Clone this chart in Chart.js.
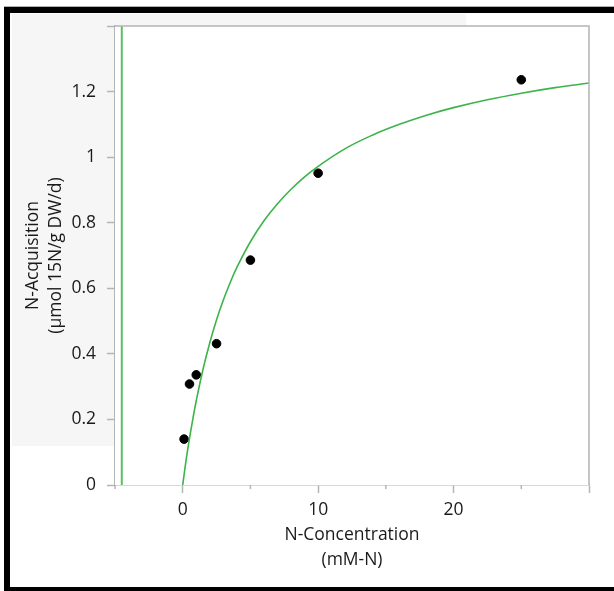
<!DOCTYPE html>
<html>
<head>
<meta charset="utf-8">
<script src="https://cdn.jsdelivr.net/npm/chart.js@4.4.1/dist/chart.umd.min.js"></script>
<style>
  html, body { margin: 0; padding: 0; background: #fff; }
  body { width: 614px; height: 591px; position: relative; overflow: hidden; }
  #frame {
    position: absolute; left: 4px; top: 7px; width: 640px; height: 584px;
    box-sizing: border-box; border-left: 6px solid #000; border-top: 6px solid #000; border-bottom: 4px solid #000;
    box-shadow: 0 -1px 0 #b0b0b0;
  }
  #shade { position: absolute; left: 12px; top: 14px; width: 454px; height: 432px; background: #f6f6f6; }
  #wrap { position: absolute; left: 0; top: 0; width: 614px; height: 591px; }
</style>
</head>
<body>
<div id="frame"></div>
<div id="shade"></div>
<div id="wrap"><canvas id="chScatter" width="614" height="591"></canvas></div>
<script>
// measured points
var concX = [0.1, 0.5, 1, 2.5, 5, 10, 25];
var acqY = [0.14, 0.308, 0.336, 0.431, 0.686, 0.951, 1.236];

// fitted curve
var fitX = [0, 0.25, 0.5, 0.75, 1, 1.5, 2, 2.5, 3, 3.5, 4, 5, 6, 7, 8, 9, 10, 12, 14, 16, 18, 20, 22.5, 25, 27.5, 30];
var fitY = [0, 0.076, 0.142, 0.202, 0.257, 0.353, 0.434, 0.504, 0.564, 0.617, 0.664, 0.742, 0.806, 0.858, 0.902, 0.94, 0.972, 1.026, 1.067, 1.1, 1.128, 1.151, 1.175, 1.195, 1.212, 1.226];

// vertical branch of the fit
var asymX = [-4.5, -4.5];
var asymY = [0, 1.4];

var xLabels = [0, 10, 20];
var yLabels = [0, 0.2, 0.4, 0.6, 0.8, 1, 1.2];

var axisGray = '#b4b4b4';
var green = '#3cb44a';

function pairs(xs, ys) {
  return xs.map(function (x, i) { return { x: x, y: ys[i] }; });
}

var frameBits = {
  id: 'frameBits',
  beforeDatasetsDraw: function (chart) {
    var a = chart.chartArea, ctx = chart.ctx;
    ctx.save();
    ctx.fillStyle = '#fff';
    ctx.fillRect(a.left, a.top, a.right - a.left, a.bottom - a.top);
    ctx.restore();
  },
  afterDraw: function (chart) {
    var a = chart.chartArea, ctx = chart.ctx, xs = chart.scales.x;
    ctx.save();
    ctx.strokeStyle = axisGray;
    ctx.lineWidth = 1.5;
    ctx.beginPath();
    ctx.moveTo(a.left, a.top);
    ctx.lineTo(a.right, a.top);
    ctx.lineTo(a.right, a.bottom);
    ctx.stroke();
    // minor ticks on x
    xs.ticks.forEach(function (t) {
      if (t.value % 10 !== 0) {
        var px = xs.getPixelForValue(t.value);
        ctx.beginPath();
        ctx.moveTo(px, a.bottom);
        ctx.lineTo(px, a.bottom + 4);
        ctx.stroke();
      }
    });
    ctx.restore();
  }
};

Chart.defaults.font.family = "'Open Sans', sans-serif";
Chart.defaults.font.size = 17.5;
Chart.defaults.color = '#1a1a1a';

new Chart(document.getElementById('chScatter'), {
  type: 'scatter',
  data: {
    datasets: [{
      data: pairs(asymX, asymY),
      showLine: true,
      borderColor: '#5cbf64',
      borderWidth: 2,
      pointRadius: 0
    }, {
      data: pairs(fitX, fitY),
      showLine: true,
      borderColor: green,
      borderWidth: 1.6,
      pointRadius: 0,
      tension: 0.4
    }, {
      data: pairs(concX, acqY),
      backgroundColor: '#000',
      borderColor: '#000',
      pointRadius: 4.3
    }]
  },
  options: {
    responsive: false,
    animation: false,
    layout: { padding: { top: 26, right: 25, left: 0, bottom: 0 } },
    plugins: { legend: { display: false }, tooltip: { enabled: false } },
    scales: {
      x: {
        type: 'linear', min: -5, max: 30,
        afterFit: function (s) { s.height = 106; },
        border: { display: true, color: axisGray, width: 1.5 },
        grid: {
          drawOnChartArea: false, tickLength: 8, tickWidth: 1.5,
          tickColor: function (c) { return c.tick && c.tick.value % 10 === 0 ? axisGray : 'rgba(0,0,0,0)'; }
        },
        ticks: {
          stepSize: 5, padding: 7, maxRotation: 0, autoSkip: false,
          callback: function (v) { return xLabels.indexOf(v) >= 0 ? String(v) : ''; }
        },
        title: {
          display: true, text: ['N-Concentration', '(mM-N)'], color: '#1a1a1a',
          font: { size: 17.5, lineHeight: 1.43 }, padding: { top: 0, bottom: 18.5 }
        }
      },
      y: {
        type: 'linear', min: 0, max: 1.4,
        afterFit: function (s) { s.width = 115; },
        border: { display: true, color: axisGray, width: 1.5 },
        grid: { drawOnChartArea: false, tickLength: 8, tickWidth: 1.5, color: axisGray },
        ticks: {
          stepSize: 0.2, padding: 11, autoSkip: false,
          callback: function (v) {
            var r = Math.round(v * 10) / 10;
            return yLabels.indexOf(r) >= 0 ? String(r) : '';
          }
        },
        title: {
          display: true, text: ['N-Acquisition', '(µmol 15N/g DW/d)'], color: '#1a1a1a',
          font: { size: 17.5, lineHeight: 1.33 }, padding: { top: 21.5, bottom: 0 }
        }
      }
    }
  },
  plugins: [frameBits]
});
</script>
</body>
</html>
